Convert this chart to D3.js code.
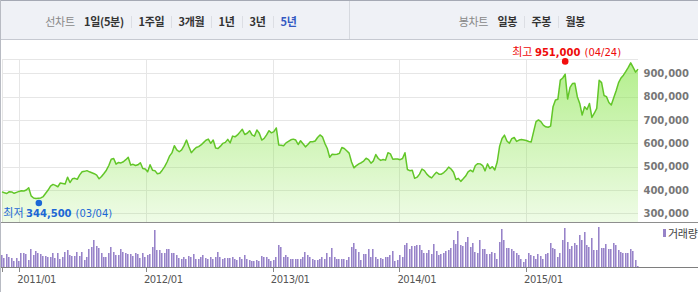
<!DOCTYPE html>
<html>
<head>
<meta charset="utf-8">
<script src="https://cdn.jsdelivr.net/npm/d3@7"></script>
<style>
  body { margin: 0; background: #fff; }
  svg { display: block; }
  text { font-family: "DejaVu Sans", sans-serif; }
  .kr { font-family: "Noto Sans CJK KR", sans-serif; }
</style>
</head>
<body>
<div id="chart"></div>
<script>
// weekly closes (thousand won), one per Friday starting at startDate
const startDate = "2010-11-12";
const closes = [
  392,388,385,393,392,386,390,394,397,396,
  400,410,375,366,364,365,366,372,386,400,
  417,424,420,414,430,428,426,455,432,448,
  450,446,465,478,480,483,478,474,470,464,
  448,458,471,485,505,532,535,511,518,516,
  521,530,540,507,510,505,508,517,492,490,
  478,508,485,483,470,472,485,500,520,545,
  559,590,572,564,572,590,614,585,560,572,
  582,586,593,603,613,618,600,614,580,578,
  588,600,604,617,602,631,628,636,648,660,
  638,643,654,636,631,657,643,614,621,636,
  654,645,650,666,593,592,590,602,608,615,
  618,614,595,611,598,585,595,607,607,610,
  625,636,628,600,578,540,553,552,553,557,
  582,578,568,558,520,495,505,512,517,524,
  536,530,515,525,552,535,527,531,528,560,
  555,532,533,533,530,535,560,488,483,485,
  450,455,468,490,483,468,458,452,465,476,
  468,468,475,485,498,490,476,445,450,437,
  448,460,478,485,478,505,513,512,505,482,
  512,492,500,486,520,588,621,635,610,600,
  620,625,608,614,616,614,612,608,606,650,
  693,700,693,678,671,669,674,757,786,789,
  871,880,896,790,840,856,857,800,771,721,
  757,745,771,711,729,750,870,860,805,800,
  775,764,795,825,860,880,892,908,925,945,
  925,905,918
];
// weekly volume (thousand shares)
const volumes = [
  37,27,40,32,27,20,29,19,44,42,
  39,22,56,37,50,44,39,35,34,32,
  32,44,29,44,25,32,47,52,36,34,
  34,46,34,46,22,32,54,62,82,64,
  57,42,32,32,42,62,46,37,37,54,
  45,44,39,39,34,44,39,29,42,32,
  37,41,60,112,52,52,42,44,56,54,
  42,44,38,27,26,32,26,34,32,40,
  26,26,32,36,28,26,32,26,32,46,
  32,26,28,27,29,32,26,22,32,26,
  37,26,22,19,19,22,19,34,32,32,
  26,20,22,32,66,60,32,37,32,26,
  26,26,26,26,32,46,36,32,26,22,
  22,26,32,26,42,32,59,32,26,24,
  26,26,22,30,60,72,54,46,22,40,
  39,54,32,54,32,26,28,26,30,32,
  36,50,19,22,36,30,67,74,54,63,
  64,67,66,52,44,42,52,40,69,49,
  37,40,42,50,52,58,82,71,109,66,
  64,77,90,60,72,47,42,82,55,54,
  40,40,45,42,26,77,115,82,58,57,
  54,50,42,37,24,16,24,44,38,34,
  24,39,35,26,39,44,72,57,54,32,
  42,82,117,77,54,65,72,67,97,82,
  107,67,60,87,52,52,122,57,59,70,
  54,54,72,67,52,47,44,44,42,55,
  50,22,4
];
const yTicks = [300, 400, 500, 600, 700, 800, 900];
const xTicks = ["2011-01-01", "2012-01-01", "2013-01-01", "2014-01-01", "2015-01-01"];
const highPoint = { date: "2015-04-24", value: 951, label: "951,000", day: "(04/24)" };
const lowPoint = { date: "2011-03-04", value: 344.5, label: "344,500", day: "(03/04)" };
const periodTabs = ["1일(5분)", "1주일", "3개월", "1년", "3년", "5년"];
const candleTabs = ["일봉", "주봉", "월봉"];

const W = 698, H = 292;
const plot = { left: 2, right: 638, top: 59.3, bottom: 222.7 };
const volBase = 267.5;

const parse = d3.timeParse("%Y-%m-%d");
const t0 = parse(startDate);
const weeks = closes.map((_, i) => d3.timeDay.offset(t0, i * 7));

const x = d3.scaleTime()
  .domain([weeks[0], weeks[weeks.length - 1]])
  .range([plot.left, plot.right]);
const y = d3.scaleLinear().domain([260, 960]).range([plot.bottom, plot.top]);
const yv = d3.scaleLinear().domain([0, 125]).range([volBase, volBase - 42]);
const px = v => Math.round(v) + 0.5;

const svg = d3.select("#chart").append("svg")
  .attr("width", W).attr("height", H);

// ---- toolbar
svg.append("rect").attr("width", W).attr("height", 39.5).attr("fill", "#eff1f6");
svg.append("line").attr("x1", 0).attr("x2", W).attr("y1", 0.5).attr("y2", 0.5).attr("stroke", "#a5a9b4");
svg.append("line").attr("x1", 0).attr("x2", W).attr("y1", 39.5).attr("y2", 39.5).attr("stroke", "#c6c9d1");
svg.append("line").attr("x1", 349.5).attr("x2", 349.5).attr("y1", 1).attr("y2", 39).attr("stroke", "#d6d9df");

function tabRow(startX, label, items, activeIdx) {
  let cx = startX;
  const lab = svg.append("text").attr("class", "kr")
    .attr("x", cx).attr("y", 26).attr("font-size", 11).attr("letter-spacing", -0.3)
    .attr("fill", "#888").text(label);
  cx += lab.node().getComputedTextLength() + 9.3;
  items.forEach((t, i) => {
    if (i > 0) {
      const sx = Math.round(cx + 7) + 0.5;
      svg.append("line").attr("x1", sx).attr("x2", sx).attr("y1", 16).attr("y2", 28)
        .attr("stroke", "#dcdee4");
      cx = sx + 7;
    }
    const el = svg.append("text").attr("class", "kr")
      .attr("x", cx).attr("y", 26).attr("font-size", 11).attr("font-weight", "bold")
      .attr("letter-spacing", -0.3)
      .attr("fill", i === activeIdx ? "#3459c2" : "#333").text(t);
    cx += el.node().getComputedTextLength();
  });
}
tabRow(45.3, "선차트", periodTabs, 5);
tabRow(458.7, "봉차트", candleTabs, -1);

// ---- grid
const grid = svg.append("g").attr("stroke", "#e6e6e6").attr("shape-rendering", "crispEdges");
grid.selectAll(".h").data(yTicks).join("line")
  .attr("x1", plot.left).attr("x2", plot.right)
  .attr("y1", d => px(y(d))).attr("y2", d => px(y(d)));
grid.append("line").attr("x1", plot.left).attr("x2", plot.right)
  .attr("y1", px(plot.top)).attr("y2", px(plot.top));
grid.selectAll(".v").data(xTicks).join("line")
  .attr("x1", d => px(x(parse(d)))).attr("x2", d => px(x(parse(d))))
  .attr("y1", plot.top).attr("y2", plot.bottom);
grid.append("line").attr("x1", px(plot.left)).attr("x2", px(plot.left))
  .attr("y1", plot.top).attr("y2", plot.bottom);

// ---- price area + line
const grad = svg.append("defs").append("linearGradient")
  .attr("id", "fillGrad").attr("gradientUnits", "userSpaceOnUse")
  .attr("x1", 0).attr("x2", 0).attr("y1", plot.top).attr("y2", plot.bottom);
grad.append("stop").attr("offset", 0).attr("stop-color", "rgb(140,230,80)").attr("stop-opacity", 0.66);
grad.append("stop").attr("offset", 1).attr("stop-color", "rgb(140,230,80)").attr("stop-opacity", 0.14);

const area = d3.area()
  .x((d, i) => x(weeks[i]))
  .y0(plot.bottom)
  .y1(d => y(d));
const line = d3.line()
  .x((d, i) => x(weeks[i]))
  .y(d => y(d));

svg.append("path").datum(closes).attr("d", area).attr("fill", "url(#fillGrad)");
svg.append("path").datum(closes).attr("d", line)
  .attr("fill", "none").attr("stroke", "#62c628").attr("stroke-width", 1.5)
  .attr("stroke-linejoin", "round");

// ---- y labels
svg.append("g").selectAll("text").data(yTicks).join("text")
  .attr("x", 689).attr("y", d => y(d)).attr("dy", "0.36em")
  .attr("text-anchor", "end").attr("font-size", 10).attr("font-weight", "bold")
  .attr("fill", "#777").text(d => d3.format(",")(d * 1000));

// ---- high / low markers
const hx = x(parse(highPoint.date)), hy = y(highPoint.value);
svg.append("circle").attr("cx", hx).attr("cy", hy).attr("r", 3.3).attr("fill", "#f20d0d");
const ht = svg.append("text").attr("x", hx + 1.5).attr("y", 55.5).attr("text-anchor", "middle")
  .attr("fill", "#ee0a0a");
ht.append("tspan").attr("class", "kr").attr("font-size", 11).text("최고 ");
ht.append("tspan").attr("font-size", 10).attr("font-weight", "bold").text(highPoint.label);
ht.append("tspan").attr("font-size", 10).attr("dx", 4).text(highPoint.day);

const lx = x(parse(lowPoint.date)), ly = y(lowPoint.value);
svg.append("circle").attr("cx", lx - 2).attr("cy", ly).attr("r", 3.3).attr("fill", "#1c68d6");
const lt = svg.append("text").attr("x", 3.3).attr("y", 217).attr("fill", "#1c68d6");
lt.append("tspan").attr("class", "kr").attr("font-size", 11).text("최저 ");
lt.append("tspan").attr("font-size", 10).attr("font-weight", "bold").text(lowPoint.label);
lt.append("tspan").attr("font-size", 10).attr("dx", 4).text(lowPoint.day);

// ---- panel separators
svg.append("line").attr("x1", 0).attr("x2", W).attr("y1", 222.5).attr("y2", 222.5).attr("stroke", "#8e8e8e");

// ---- volume bars
const bars = svg.append("g").attr("shape-rendering", "crispEdges");
bars.selectAll("rect.f").data(volumes).join("rect")
  .attr("x", (d, i) => Math.round(x(weeks[i])) - 1)
  .attr("width", 2)
  .attr("y", d => yv(d)).attr("height", d => volBase - yv(d))
  .attr("fill", "#c5b9e2");
bars.selectAll("rect.e").data(volumes).join("rect")
  .attr("x", (d, i) => Math.round(x(weeks[i])) - 1)
  .attr("width", 1)
  .attr("y", d => yv(d)).attr("height", d => volBase - yv(d))
  .attr("fill", "#9783c8");

svg.append("line").attr("x1", 0).attr("x2", W).attr("y1", volBase).attr("y2", volBase).attr("stroke", "#7e7e7e");

// ---- x ticks + labels
const tickXs = [plot.left].concat(xTicks.map(d => x(parse(d))));
svg.append("g").selectAll("line").data(tickXs).join("line")
  .attr("x1", d => px(d)).attr("x2", d => px(d))
  .attr("y1", volBase).attr("y2", volBase + 4.5).attr("stroke", "#888");
svg.append("g").selectAll("text").data(xTicks).join("text")
  .attr("x", d => x(parse(d)) - 2).attr("y", 282.6)
  .attr("font-size", 10).attr("letter-spacing", -0.4).attr("fill", "#555")
  .text(d => d3.timeFormat("%Y/%m")(parse(d)));

// ---- legend
svg.append("rect").attr("x", 660).attr("y", 226).attr("width", 37).attr("height", 15).attr("fill", "#fff");
svg.append("rect").attr("x", 663).attr("y", 229).attr("width", 3).attr("height", 8).attr("fill", "#9783c8");
svg.append("text").attr("class", "kr").attr("x", 668).attr("y", 237.5)
  .attr("font-size", 11).attr("letter-spacing", -0.3).attr("fill", "#444").text("거래량");

// ---- outer left border
svg.append("line").attr("x1", 0.5).attr("x2", 0.5).attr("y1", 0).attr("y2", H).attr("stroke", "#b8bbc3");
</script>
</body>
</html>
